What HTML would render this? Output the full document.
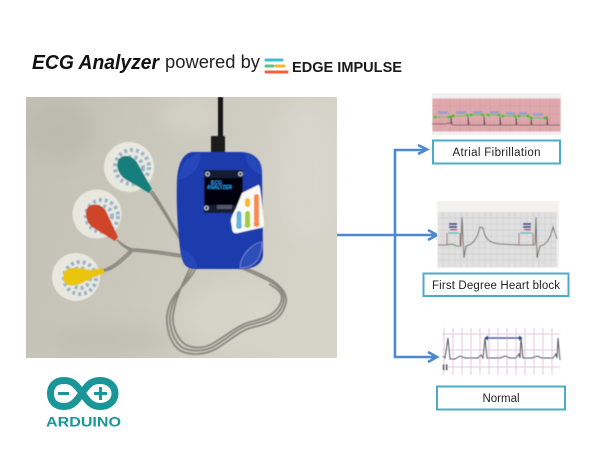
<!DOCTYPE html>
<html>
<head>
<meta charset="utf-8">
<style>
html,body{margin:0;padding:0;background:#fff;width:600px;height:450px;overflow:hidden}
svg{display:block}
text{font-family:"Liberation Sans",sans-serif}
</style>
</head>
<body>
<svg width="600" height="450" viewBox="0 0 600 450" xmlns="http://www.w3.org/2000/svg">
<defs>
<filter id="b1" x="-10%" y="-10%" width="120%" height="120%"><feGaussianBlur stdDeviation="0.5"/></filter>
<filter id="b2" x="-30%" y="-30%" width="160%" height="160%"><feGaussianBlur stdDeviation="9"/></filter>
<filter id="b3" x="-10%" y="-10%" width="120%" height="120%"><feGaussianBlur stdDeviation="0.5"/></filter>
<clipPath id="photo"><rect x="26" y="97" width="311" height="261"/></clipPath>
<linearGradient id="fab" x1="0" y1="0" x2="1" y2="0.2">
<stop offset="0" stop-color="#c2bfb4"/><stop offset="0.5" stop-color="#cbc8bd"/><stop offset="1" stop-color="#d6d3c9"/>
</linearGradient>
</defs>

<rect width="600" height="450" fill="#fff"/>

<!-- Title -->
<text x="32" y="69" font-size="20" font-style="italic" font-weight="bold" fill="#111" textLength="127" lengthAdjust="spacingAndGlyphs">ECG Analyzer</text>
<text x="165" y="68" font-size="18" fill="#222" textLength="95" lengthAdjust="spacingAndGlyphs">powered by</text>
<g stroke-width="3" stroke-linecap="round">
<path d="M266 60H282" stroke="#3fc0d2"/>
<path d="M266 66H273" stroke="#5fc28a"/><path d="M276 66H284" stroke="#f4b72f"/>
<path d="M266 72H287" stroke="#f0623e"/>
</g>
<text x="292" y="72" font-size="14.5" font-weight="bold" fill="#1a1a1a" textLength="110" lengthAdjust="spacingAndGlyphs">EDGE IMPULSE</text>

<!-- Photo -->
<g clip-path="url(#photo)">
<rect x="26" y="97" width="311" height="261" fill="url(#fab)"/>
<g filter="url(#b2)" opacity="0.5">
<ellipse cx="60" cy="130" rx="35" ry="30" fill="#b6b3a8"/>
<ellipse cx="305" cy="170" rx="30" ry="70" fill="#dcdad1"/>
<ellipse cx="230" cy="315" rx="50" ry="30" fill="#dbd8cd"/>
<ellipse cx="190" cy="115" rx="30" ry="18" fill="#dcd9cf"/>
<ellipse cx="110" cy="340" rx="60" ry="14" fill="#b9b6ab"/>
</g>
<g filter="url(#b1)">
<!-- pads -->
<circle cx="129" cy="167" r="25" fill="#e9e8df"/>
<circle cx="97" cy="214" r="24.500" fill="#e9e8df"/>
<circle cx="76" cy="277" r="24" fill="#e9e8df"/>
<g fill="none" stroke="#7ba5bf" stroke-dasharray="3 3" opacity="0.75">
<circle cx="132" cy="167" r="17" stroke-width="4"/>
<circle cx="132" cy="168" r="11" stroke-width="4"/>
<circle cx="102" cy="216" r="16" stroke-width="4"/>
<circle cx="102" cy="216" r="10" stroke-width="4"/>
<circle cx="80" cy="278" r="16" stroke-width="4"/>
<circle cx="80" cy="278" r="10" stroke-width="4"/>
</g>
<!-- wires -->
<g fill="none" stroke="#8a887f" stroke-width="1.800">
<path d="M150 192C160 205 170 222 180 240"/>
<path d="M152 191C162 205 171 222 181 239"/>
<path d="M117 240C124 246 130 249 133 249C150 250 170 253 182 255"/>
<path d="M118 241C124 247 130 251 134 251C150 252 170 255 182 257"/>
<path d="M103 270C115 267 125 255 131 250"/>
<path d="M104 271C116 269 126 257 132 252"/>
<!-- loop -->
<path d="M196 268C188 285 170 292 167 315C166 332 172 346 181 351C192 356 205 354 214 350C228 342 240 331 250 328C265 324 280 322 285 306C289 296 283 288 273 281C262 274 250 270 243 267"/>
<path d="M193 268C185 284 173 294 170 315C169 330 175 343 183 348C193 352 204 351 213 347C227 339 238 328 249 325C264 321 278 319 283 304C286 295 281 288 271 282C260 276 248 271 241 268"/>
<path d="M190 268C183 283 176 296 173 315C172 328 178 340 186 345C195 349 204 348 212 344C226 336 238 325 250 322C262 319 276 316 281 302C284 294 278 289 269 284"/>
</g>
<!-- snaps -->
<path d="M119 159C124 153 134 156 138 164L152 189L149 193L125 179C118 174 115 165 119 159Z" fill="#137f7e"/>
<path d="M88 207C93 202 103 205 106 211L118 237L115 241L92 227C86 222 84 212 88 207Z" fill="#cf452a"/>
<path d="M66 270C71 266 82 268 90 270L103 268L104 273L90 279C82 284 71 288 66 284C62 281 62 274 66 270Z" fill="#eac40d"/>
<!-- usb cable -->
<rect x="218" y="97" width="5" height="42" fill="#161616"/>
<rect x="211" y="136" width="14" height="17" rx="1" fill="#1b1b1b"/>
<!-- device -->
<path d="M192 152H240C254 152 262 160 262 172L263 254C263 266 250 270 238 269H196C184 269 183 262 181 255C178 235 176 205 177 180C178 165 182 154 192 152Z" fill="#1f3aac"/>
<path d="M178 180C181 165 186 156 200 153C202 165 192 178 178 180Z" fill="#2846ba"/>
<path d="M245 153C255 155 262 163 262 175C252 172 246 164 245 153Z" fill="#2846ba"/>
<path d="M240 268C240 256 252 243 262 242C262 258 255 268 240 268Z" fill="#2f4fb8" stroke="#8ea0d8" stroke-width="0.600"/>
<path d="M181 250C190 250 196 258 197 268C186 268 182 262 181 250Z" fill="#2846ba"/>
<!-- oled -->
<rect x="204" y="170" width="39" height="43" rx="1.500" fill="#161a33"/>
<rect x="205" y="178" width="37" height="27" fill="#04060f"/>
<rect x="217" y="205" width="15" height="4" fill="#52546a"/>
<g fill="#0c1226" stroke="#bfc4cc" stroke-width="1.200">
<circle cx="207.500" cy="174" r="1.800"/><circle cx="240.500" cy="174" r="1.800"/>
<circle cx="206.500" cy="208" r="1.800"/><circle cx="239.500" cy="208" r="1.800"/>
</g>
<text x="211" y="184.500" font-size="5" font-weight="bold" fill="#2f9bf0">ECG</text>
<text x="207" y="189" font-size="5.500" font-weight="bold" fill="#2f9bf0" textLength="25" lengthAdjust="spacingAndGlyphs">ANALYZER</text>
<!-- sticker -->
<path d="M242 193L258 185C260 185 260 187 261 195L264 224C264 227 262 228 260 228L238 233C234 234 232 232 232 228L231 222C230 219 234 212 236 208Z" fill="#fbfaf7"/>
<rect x="236.500" y="211" width="5" height="16" rx="2.500" fill="#62b5dc"/>
<circle cx="239" cy="226" r="3" fill="#62b5dc"/>
<rect x="245" y="211" width="5" height="15" rx="2.500" fill="#9fcf3d"/>
<circle cx="247.500" cy="225" r="3" fill="#9fcf3d"/>
<rect x="245" y="198" width="5" height="9" rx="2.500" fill="#f5b82b"/>
<rect x="254" y="194" width="5" height="30" rx="2.500" fill="#f98a50"/>
<circle cx="256.500" cy="224" r="3" fill="#f98a50"/>
</g>
</g>

<!-- Connectors -->
<g fill="none" stroke="#4d88d2" stroke-width="2.600">
<path d="M337 235H436"/>
<path d="M426 150H395V357H436"/>
</g>
<g fill="none" stroke="#4d88d2" stroke-width="2.600" stroke-linejoin="miter">
<path d="M418 145L427 149.500L418 154"/>
<path d="M428 230L437 235L428 240"/>
<path d="M428 352L437 357L428 362"/>
</g>

<!-- Atrial -->
<rect x="432" y="93" width="129" height="42" fill="#f3f0f0"/>
<g filter="url(#b3)">
<rect x="432.500" y="98.500" width="128" height="33" fill="#dfa8ad"/>
<g stroke="#d39aa0" stroke-width="0.400">
<path d="M440 98V132M450 98V132M460 98V132M470 98V132M480 98V132M490 98V132M500 98V132M510 98V132M520 98V132M530 98V132M540 98V132M550 98V132"/>
<path d="M432 106H560M432 114H560M432 122H560"/>
</g>
<path d="M432 124H446Q450 122 451 124H451V116L452 125H468V116L469 125H484V116L485 125H500V116L501 125H516V116L517 125H531V116L532 125H547V116L548 125H560" fill="none" stroke="#5d4a4a" stroke-width="0.800"/>
<g stroke="#3fc332" stroke-width="1" fill="#2fd226">
<path d="M435 117H450M453 116H465M470 115H483M488 115H498M503 116H515M519 116H527M531 118H545" fill="none"/>
<circle cx="435" cy="117" r="1.100"/><circle cx="449" cy="117" r="1.100"/><circle cx="453" cy="116" r="1.100"/><circle cx="467" cy="115" r="1.100"/><circle cx="471" cy="115" r="1.100"/><circle cx="483" cy="115" r="1.100"/><circle cx="488" cy="115" r="1.100"/><circle cx="499" cy="115" r="1.100"/><circle cx="503" cy="116" r="1.100"/><circle cx="515" cy="116" r="1.100"/><circle cx="519" cy="116" r="1.100"/><circle cx="528" cy="116" r="1.100"/><circle cx="531" cy="118" r="1.100"/><circle cx="545" cy="118" r="1.100"/>
</g>
<g fill="#9ba0c8"><rect x="438" y="111" width="10" height="3"/><rect x="456" y="111" width="10" height="3"/><rect x="473" y="111" width="9" height="3"/><rect x="490" y="111" width="9" height="3"/><rect x="506" y="112" width="9" height="3"/><rect x="519" y="112" width="8" height="3"/><rect x="533" y="113" width="10" height="3"/></g>
</g>
<rect x="433" y="140.500" width="127" height="23" fill="#fff" stroke="#4bacc6" stroke-width="2"/>
<text x="496.500" y="156" font-size="11.500" text-anchor="middle" fill="#222" textLength="88" lengthAdjust="spacing">Atrial Fibrillation</text>

<!-- First degree -->
<rect x="437" y="201" width="122" height="67" fill="#f3f2f0"/>
<g filter="url(#b3)">
<rect x="438" y="212" width="119" height="55" fill="#e0e0e0"/>
<g stroke="#c6c6c6" stroke-width="0.400">
<path d="M443 212V267M449 212V267M455 212V267M461 212V267M467 212V267M473 212V267M479 212V267M485 212V267M491 212V267M497 212V267M503 212V267M509 212V267M515 212V267M521 212V267M527 212V267M533 212V267M539 212V267M545 212V267M551 212V267"/>
<path d="M438 218H557M438 224H557M438 230H557M438 236H557M438 242H557M438 248H557M438 254H557M438 260H557"/>
</g>
<path d="M438 245H447L452 244L457 246H461L462 217L464 258L466 246C472 245 477 240 480 227L483 228C485 240 490 243 500 244L520 245C525 245 530 245 534 245H535L536 217L537 258L540 246C546 245 550 240 553 227L557 239" fill="none" stroke="#6c6c6c" stroke-width="1"/>
<g fill="none" stroke="#b0463c" stroke-width="0.900"><path d="M447 233V245M460 233V245M519 233V245M533 233V245"/></g>
<path d="M448 233H459M520 233H532" stroke="#3fb4c6" stroke-width="1.200"/>
<g fill="#3b4a9c"><rect x="449" y="223" width="8" height="2"/><rect x="449" y="226" width="8" height="2"/><rect x="523" y="223" width="8" height="2"/><rect x="523" y="226" width="8" height="2"/></g>
<g fill="#b0463c"><rect x="450" y="229" width="7" height="1.500"/><rect x="524" y="229" width="7" height="1.500"/></g>
</g>
<rect x="423.500" y="273.500" width="145" height="22.500" fill="#fff" stroke="#4bacc6" stroke-width="2"/>
<text x="496" y="289" font-size="11.500" text-anchor="middle" fill="#222" textLength="128" lengthAdjust="spacing">First Degree  Heart  block</text>

<!-- Normal -->
<g filter="url(#b3)">
<g stroke="#e0c8dc" stroke-width="1">
<path d="M444 328V375M453 328V375M462 328V375M471 328V375M480 328V375M489 328V375M498 328V375M507 328V375M516 328V375M525 328V375M534 328V375M543 328V375M552 328V375"/>
<path d="M442 334H560M442 350H560M442 367H560"/>
</g>
<path d="M443 356L445 358L448 338L450 359H455L460 356L465 358H478L481 355L483 358L485 338L487 358H500L505 356L510 358H516L519 354L520 358L521 338L523 358H532L537 356L542 358H553L556 354L557 358L558 338L560 360" fill="none" stroke="#555" stroke-width="1"/>
<path d="M486 338H521" stroke="#27408b" stroke-width="1.200"/>
<path d="M484.500 338L488 335.500V340.500ZM522.500 338L519 335.500V340.500Z" fill="#27408b"/>
<text x="442" y="370" font-size="8" font-weight="bold" fill="#333" style="font-family:'Liberation Serif',serif">II</text>
</g>
<rect x="437" y="386.500" width="128" height="23" fill="#fff" stroke="#4bacc6" stroke-width="2"/>
<text x="501" y="402" font-size="11.500" text-anchor="middle" fill="#222">Normal</text>

<!-- Arduino -->
<path d="M82 393C76 384 72 380.500 64 380.500C55 380.500 50.500 386 50.500 393.500C50.500 401 55 406.500 64 406.500C72 406.500 76 402 82 393C88 384 92 380.500 100 380.500C109 380.500 115 386 115 393.500C115 401 109 406.500 100 406.500C92 406.500 88 402 82 393Z" fill="none" stroke="#1a9698" stroke-width="7"/>
<path d="M58 393.500H69" stroke="#1a9698" stroke-width="3"/>
<path d="M94 393.500H107M100.500 387V400" stroke="#1a9698" stroke-width="3"/>
<text x="46" y="426.500" font-size="13.500" font-weight="bold" fill="#1a9698" textLength="75" lengthAdjust="spacingAndGlyphs">ARDUINO</text>
</svg>
</body>
</html>
